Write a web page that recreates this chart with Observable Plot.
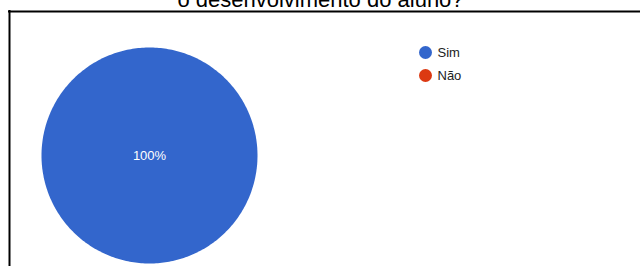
<!DOCTYPE html>
<html><head><meta charset="utf-8">
<script src="https://cdn.jsdelivr.net/npm/d3@7"></script>
<script src="https://cdn.jsdelivr.net/npm/@observablehq/plot@0.6"></script>
<style>html,body{margin:0;padding:0;background:#fff;overflow:hidden}</style>
</head><body><div id="chart"></div>
<script>
const titleLines = ["o desenvolvimento do aluno?"];
const categories = ["Sim", "Não"];
const values = [100, 0];
const colors = ["#3366cc", "#dc3912"];

const W = 640, H = 266;
const cx = 149, cy = 155, R = 108;
const legX = 425, legY = 52, legStep = 23;

const total = d3.sum(values);
const arcs = d3.pie().sort(null).value(d => d)(values);

const slicePts = [];
const labels = [];
arcs.forEach((a, i) => {
  const span = a.endAngle - a.startAngle;
  if (span <= 0) return;
  const full = span >= 2 * Math.PI - 1e-9;
  const n = Math.max(2, Math.ceil(span / (Math.PI / 180)));
  if (!full) slicePts.push({cat: categories[i], px: 0, py: 0});
  for (let k = 0; k <= n; k++) {
    const t = a.startAngle + span * k / n;
    slicePts.push({cat: categories[i], px: Math.sin(t), py: -Math.cos(t)});
  }
  const mid = (a.startAngle + a.endAngle) / 2;
  const rr = full ? 0 : 0.6;
  labels.push({text: Math.round(values[i] / total * 100) + "%", px: rr * Math.sin(mid), py: -rr * Math.cos(mid)});
});

const legend = categories.map((c, i) => ({cat: c, i}));

const chart = Plot.plot({
  width: W, height: H,
  margin: 0,
  style: {fontFamily: "Arial, 'Liberation Sans', sans-serif", background: "#fff", overflow: "visible"},
  x: {domain: [0, W], range: [0, W], axis: null},
  y: {domain: [0, H], range: [0, H], axis: null},
  color: {domain: categories, range: colors},
  marks: [
    Plot.line(slicePts, {x: d => cx + R * d.px, y: d => cy + R * d.py, z: "cat", fill: "cat", stroke: "none", curve: "linear-closed"}),
    Plot.text(labels, {x: d => cx + R * d.px, y: d => cy + R * d.py, text: "text", fill: "white", fontSize: 13, textAnchor: "middle", lineAnchor: "middle"}),
    Plot.dot(legend, {x: () => legX, y: d => legY + d.i * legStep, r: 6.5, fill: "cat", stroke: "none"}),
    Plot.text(legend, {x: () => legX, y: d => legY + d.i * legStep, text: "cat", dx: 12, textAnchor: "start", lineAnchor: "middle", fontSize: 13, fill: "#222"}),
    Plot.ruleY([11], {x1: 8, x2: W, stroke: "black", strokeWidth: 2}),
    Plot.ruleX([9], {y1: 10, y2: H, stroke: "black", strokeWidth: 2}),
    Plot.text(titleLines, {x: () => W / 2, y: () => 6, text: d => d, fontSize: 22, textAnchor: "middle", lineAnchor: "bottom", fill: "#000"})
  ]
});
document.getElementById("chart").append(chart);
</script>
</body></html>
